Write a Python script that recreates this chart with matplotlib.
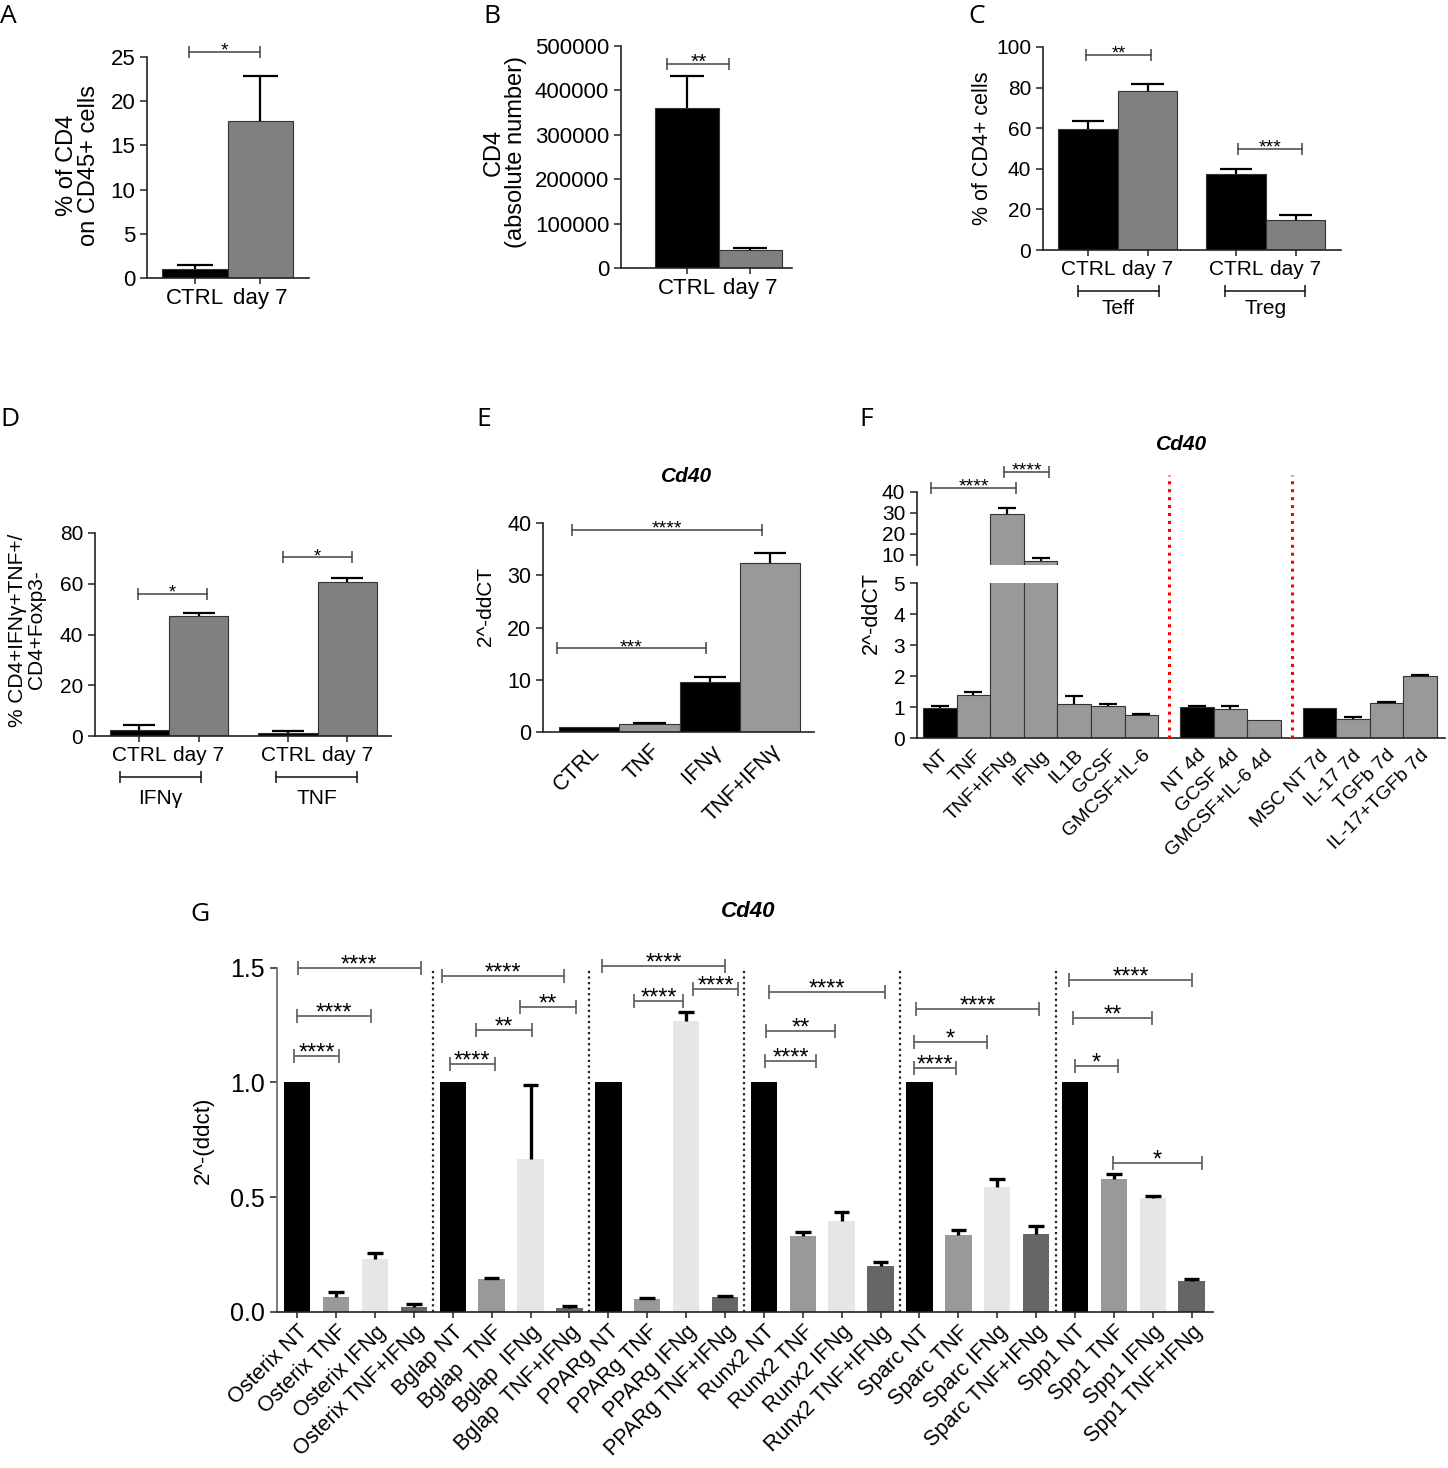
import numpy as np
import matplotlib
matplotlib.use('Agg')
import matplotlib.pyplot as plt

plt.rcParams['font.family'] = ['Liberation Sans', 'DejaVu Sans']

W, H = 1448, 1468

# ---- panel A ----
a_labels = ['CTRL', 'day 7']
a_vals = [1.0, 17.8]
a_top = [1.5, 22.8]

# ---- panel B ----
b_labels = ['CTRL', 'day 7']
b_vals = [360000, 40000]
b_top = [432000, 45000]

# ---- panel C ----
c_groups = ['Teff', 'Treg']
c_labels = ['CTRL', 'day 7', 'CTRL', 'day 7']
c_vals = [59.5, 78.5, 37.5, 14.8]
c_top = [63.5, 82.0, 40.0, 17.0]

# ---- panel D ----
d_groups = ['IFNγ', 'TNF']
d_labels = ['CTRL', 'day 7', 'CTRL', 'day 7']
d_vals = [2.5, 47.3, 1.0, 60.8]
d_top = [4.3, 48.5, 2.0, 62.2]

# ---- panel E ----
e_labels = ['CTRL', 'TNF', 'IFNγ', 'TNF+IFNγ']
e_vals = [0.95, 1.58, 9.66, 32.4]
e_top = [0.95, 1.7, 10.5, 34.3]

# ---- panel F ----
f_groups = [
    ['NT', 'TNF', 'TNF+IFNg', 'IFNg', 'IL1B', 'GCSF', 'GMCSF+IL-6'],
    ['NT 4d', 'GCSF 4d', 'GMCSF+IL-6 4d'],
    ['MSC NT 7d', 'IL-17 7d', 'TGFb 7d', 'IL-17+TGFb 7d'],
]
f_vals = [0.97, 1.40, 29.6, 7.3, 1.10, 1.05, 0.75,
          1.02, 0.95, 0.59,
          0.98, 0.63, 1.13, 2.01]
f_top = [1.04, 1.50, 32.1, 8.5, 1.35, 1.10, 0.78,
         1.05, 1.03, 0.59,
         0.98, 0.69, 1.18, 2.03]

# ---- panel G ----
g_genes = ['Osterix', 'Bglap', 'PPARg', 'Runx2', 'Sparc', 'Spp1']
g_treat = ['NT', 'TNF', 'IFNg', 'TNF+IFNg']
g_vals = [
    [1.0, 0.065, 0.229, 0.022],
    [1.0, 0.143, 0.667, 0.017],
    [1.0, 0.055, 1.269, 0.063],
    [1.0, 0.330, 0.397, 0.199],
    [1.0, 0.334, 0.544, 0.338],
    [1.0, 0.579, 0.494, 0.134],
]
g_top = [
    [1.0, 0.087, 0.255, 0.034],
    [1.0, 0.148, 0.989, 0.026],
    [1.0, 0.058, 1.306, 0.070],
    [1.0, 0.346, 0.433, 0.218],
    [1.0, 0.355, 0.580, 0.374],
    [1.0, 0.599, 0.506, 0.141],
]
# significance brackets (x from, x to, height, label)
g_sig = [
    (-0.08, 1.08, 1.115, '****'), (-0.01, 1.89, 1.291, '****'), (0.01, 3.18, 1.50, '****'),
    (3.92, 5.08, 1.079, '****'), (4.60, 6.04, 1.229, '**'), (5.73, 7.16, 1.330, '**'),
    (3.72, 6.87, 1.463, '****'),
    (7.85, 11.00, 1.508, '****'), (8.67, 9.91, 1.356, '****'), (10.18, 11.33, 1.409, '****'),
    (12.03, 13.34, 1.093, '****'), (12.06, 13.83, 1.223, '**'), (12.13, 15.12, 1.394, '****'),
    (15.86, 16.94, 1.061, '****'), (15.86, 17.73, 1.178, '*'), (15.91, 19.08, 1.320, '****'),
    (19.99, 21.10, 1.073, '*'), (19.94, 21.98, 1.281, '**'), (19.85, 23.01, 1.447, '****'),
    (20.97, 23.26, 0.650, '*'),
]

GREY = '#808080'
LGREY = '#999999'
NARROW = ['Liberation Sans Narrow', 'Liberation Sans', 'DejaVu Sans']


def rect(x0, y0, x1, y1):
    return [x0 / W, 1 - y1 / H, (x1 - x0) / W, (y1 - y0) / H]


def style(ax, size, family=None):
    for s in ['top', 'right']:
        ax.spines[s].set_visible(False)
    for s in ['left', 'bottom']:
        ax.spines[s].set_linewidth(1.2)
        ax.spines[s].set_color('#222222')
    ax.tick_params(direction='out', labelsize=size, width=1.1, length=5, color='#222222')
    if family:
        for t in ax.get_xticklabels() + ax.get_yticklabels():
            t.set_family(family)


def errs(ax, x, vals, tops, hw, lw=1.6, color='black'):
    for xi, v, t in zip(x, vals, tops):
        if t > v:
            ax.plot([xi, xi], [v, t], color=color, lw=lw, solid_capstyle='butt', zorder=3)
            ax.plot([xi - hw, xi + hw], [t, t], color=color, lw=lw, solid_capstyle='butt', zorder=3)


def bracket(ax, x1, x2, y, txt, color='#444444', lw=1.1, fs=14, ms=9, off=-2.8):
    ax.plot([x1, x2], [y, y], color=color, lw=lw, marker='|', markersize=ms,
            markeredgewidth=lw, clip_on=False, zorder=4)
    ax.annotate(txt, ((x1 + x2) / 2, y), xytext=(0, off), textcoords='offset points',
                ha='center', va='baseline', fontsize=fs, annotation_clip=False)


def group_bracket(ax, x1, x2, ylev, ytxt, txt, fs=15):
    tr = ax.get_xaxis_transform()
    ax.plot([x1, x2], [ylev, ylev], color='#222222', lw=1.2, marker='|', markersize=9,
            markeredgewidth=1.2, transform=tr, clip_on=False)
    ax.text((x1 + x2) / 2, ytxt, txt, transform=tr, ha='center', va='center', fontsize=fs)


fig = plt.figure(figsize=(W / 100, H / 100), dpi=100)

# panel letters
for lab, (px, py) in zip('ABCDEFG', [(0, 4), (483, 4), (968, 4), (0, 407), (476, 407), (859, 407), (190, 902)]):
    fig.text(px / W, 1 - py / H, lab, fontsize=19, family=['Open Sans', 'DejaVu Sans'],
             ha='left', va='top')

# ---------------- A ----------------
ax = fig.add_axes(rect(147, 57, 309, 278))
xa = np.arange(len(a_vals))
ax.bar(xa, a_vals, width=1.0, color=['black', GREY], edgecolor='#333333', linewidth=0.8)
errs(ax, xa, a_vals, a_top, 0.27)
ax.set_xlim(-0.73, 1.74)
ax.set_ylim(0, 25)
ax.set_yticks([0, 5, 10, 15, 20, 25])
ax.set_xticks(xa)
ax.set_xticklabels(a_labels)
style(ax, 16, NARROW)
ax.tick_params(axis='x', length=4)
bracket(ax, -0.09, 0.99, 25.6, '*')
fig.text(78 / W, 1 - 165 / H, '% of CD4\non CD45+ cells', rotation=90, ha='center', va='center',
         fontsize=17, multialignment='center', linespacing=1.0)

# ---------------- B ----------------
ax = fig.add_axes(rect(621, 46, 792, 268))
xb = np.arange(len(b_vals))
ax.bar(xb, b_vals, width=1.0, color=['black', GREY], edgecolor='#333333', linewidth=0.8)
errs(ax, xb, b_vals, b_top, 0.27)
ax.set_xlim(-1.04, 1.66)
ax.set_ylim(0, 500000)
ax.set_yticks(np.arange(0, 500001, 100000))
ax.set_xticks(xb)
ax.set_xticklabels(b_labels)
style(ax, 16, NARROW)
ax.tick_params(axis='x', length=4)
bracket(ax, -0.31, 0.67, 460000, '**', fs=15)
fig.text(505 / W, 1 - 152 / H, 'CD4\n(absolute number)', rotation=90, ha='center', va='center',
         fontsize=17, multialignment='center', linespacing=1.0)

# ---------------- C ----------------
ax = fig.add_axes(rect(1043, 47, 1341, 250))
xc = np.array([0, 1, 2.48, 3.48])
ax.bar(xc, c_vals, width=1.0, color=['black', GREY, 'black', GREY], edgecolor='#333333', linewidth=0.8)
errs(ax, xc, c_vals, c_top, 0.27)
ax.set_xlim(-0.75, 4.24)
ax.set_ylim(0, 100)
ax.set_yticks(np.arange(0, 101, 20))
ax.set_xticks(xc)
ax.set_xticklabels(c_labels)
style(ax, 15)
ax.tick_params(axis='x', length=4)
bracket(ax, -0.03, 1.06, 96.3, '**', fs=13)
bracket(ax, 2.51, 3.59, 49.9, '***', fs=14)
group_bracket(ax, -0.16, 1.19, -0.202, -0.286, c_groups[0])
group_bracket(ax, 2.30, 3.64, -0.202, -0.286, c_groups[1])
fig.text(982 / W, 1 - 148 / H, '% of CD4+ cells', rotation=90, ha='center', va='center', fontsize=15.5)

# ---------------- D ----------------
ax = fig.add_axes(rect(95, 533, 391, 736))
xd = np.array([0, 1, 2.51, 3.51])
ax.bar(xd, d_vals, width=1.0, color=['black', GREY, 'black', GREY], edgecolor='#333333', linewidth=0.8)
errs(ax, xd, d_vals, d_top, 0.27)
ax.set_xlim(-0.75, 4.25)
ax.set_ylim(0, 80)
ax.set_yticks(np.arange(0, 81, 20))
ax.set_xticks(xd)
ax.set_xticklabels(d_labels)
style(ax, 15)
ax.tick_params(axis='x', length=4)
bracket(ax, -0.02, 1.14, 56.0, '*', fs=13)
bracket(ax, 2.42, 3.59, 70.5, '*', fs=13)
group_bracket(ax, -0.33, 1.04, -0.202, -0.31, d_groups[0])
group_bracket(ax, 2.31, 3.68, -0.202, -0.31, d_groups[1])
fig.text(27 / W, 1 - 630 / H, '% CD4+IFNγ+TNF+/\nCD4+Foxp3-', rotation=90, ha='center', va='center',
         fontsize=15, multialignment='center', linespacing=1.0)

# ---------------- E ----------------
ax = fig.add_axes(rect(543, 522.7, 814, 732.3))
xe = np.arange(len(e_vals))
ax.bar(xe, e_vals, width=1.0, color=['black', LGREY, 'black', LGREY], edgecolor='#333333', linewidth=0.8)
errs(ax, xe, e_vals, e_top, 0.27)
ax.set_xlim(-0.77, 3.73)
ax.set_ylim(0, 40)
ax.set_yticks(np.arange(0, 41, 10))
ax.set_xticks(xe)
ax.set_xticklabels(e_labels, rotation=45, ha='right', rotation_mode='anchor')
style(ax, 15.5)
ax.tick_params(axis='x', length=0, pad=6)
bracket(ax, -0.29, 2.87, 38.6, '****')
bracket(ax, -0.54, 1.94, 16.0, '***')
fig.text(687 / W, 1 - 476 / H, 'Cd40', ha='center', va='center', fontsize=15,
         fontweight='bold', fontstyle='italic')
fig.text(486 / W, 1 - 606 / H, '2^-ddCT', rotation=90, ha='center', va='center', fontsize=15)

# ---------------- F (broken axis) ----------------
f_labels = [l for g in f_groups for l in g]
xf = []
cur = 0.0
seps = []
for gi, g in enumerate(f_groups):
    if gi > 0:
        seps.append(cur - 0.5 + 0.325)
        cur += 0.65
    for _ in g:
        xf.append(cur)
        cur += 1
xf = np.array(xf)
f_cols = ['black' if l.startswith(('NT', 'MSC NT')) else LGREY for l in f_labels]

axt = fig.add_axes(rect(917, 491.7, 1445, 565))
axb = fig.add_axes(rect(917, 583.3, 1445, 738.3))
for a in (axt, axb):
    a.bar(xf, f_vals, width=1.0, color=f_cols, edgecolor='#333333', linewidth=0.8)
    errs(a, xf, f_vals, f_top, 0.27)
    a.set_xlim(-0.68, 15.04)
    a.patch.set_alpha(0)
axt.set_ylim(5.26, 40)
axt.set_yticks([10, 20, 30, 40])
axb.set_ylim(0, 5)
axb.set_yticks([0, 1, 2, 3, 4, 5])
style(axt, 15)
style(axb, 15)
axt.spines['bottom'].set_visible(False)
axt.set_xticks([])
axb.set_xticks(xf)
axb.set_xticklabels(f_labels, rotation=45, ha='right', rotation_mode='anchor')
axb.tick_params(axis='x', length=0, pad=6, labelsize=14)
bracket(axt, -0.26, 2.27, 41.9, '****')
bracket(axt, 1.91, 3.25, 49.5, '****')
for s in seps:
    axb.plot([s, s], [0, 8.5], color='red', lw=2.2, ls=(0, (1, 1.6)), clip_on=False, zorder=5)
fig.text(1182 / W, 1 - 444 / H, 'Cd40', ha='center', va='center', fontsize=15,
         fontweight='bold', fontstyle='italic')
fig.text(871 / W, 1 - 613 / H, '2^-ddCT', rotation=90, ha='center', va='center', fontsize=15.5)

# ---------------- G ----------------
ax = fig.add_axes(rect(277, 967.7, 1213, 1311.7))
g_colors = ['black', '#999999', '#e6e6e6', '#666666']
xg = np.arange(len(g_genes) * len(g_treat))
gv = np.array(g_vals).ravel()
gt = np.array(g_top).ravel()
ax.bar(xg, gv, width=0.68, color=g_colors * len(g_genes), linewidth=0)
errs(ax, xg, gv, gt, 0.2, lw=2.4)
g_labels = []
for gene in g_genes:
    sp = '  ' if gene == 'Bglap' else ' '
    for i, t in enumerate(g_treat):
        g_labels.append(gene + (' ' if i == 0 else sp) + t)
for k in range(1, len(g_genes)):
    ax.axvline(k * len(g_treat) - 0.5, color='#222222', lw=1.6, ls=(0, (1, 1.5)), ymax=1.0)
ax.set_xlim(-0.52, 23.55)
ax.set_ylim(0, 1.5)
ax.set_yticks([0, 0.5, 1.0, 1.5])
ax.set_yticklabels(['0.0', '0.5', '1.0', '1.5'])
ax.set_xticks(xg)
ax.set_xticklabels(g_labels, rotation=45, ha='right', rotation_mode='anchor')
style(ax, 18)
ax.spines['left'].set_color('#666666')
ax.tick_params(axis='x', length=4, labelsize=15.5, pad=3)
for x1, x2, y, txt in g_sig:
    bracket(ax, x1, x2, y, txt, color='#666666', lw=1.3, fs=17, ms=10, off=-2.6)
fig.text(748 / W, 1 - 912 / H, 'Cd40', ha='center', va='center', fontsize=16,
         fontweight='bold', fontstyle='italic')
fig.text(203 / W, 1 - 1140 / H, '2^-(ddct)', rotation=90, ha='center', va='center', fontsize=16)

fig.savefig('out.png', dpi=100)
